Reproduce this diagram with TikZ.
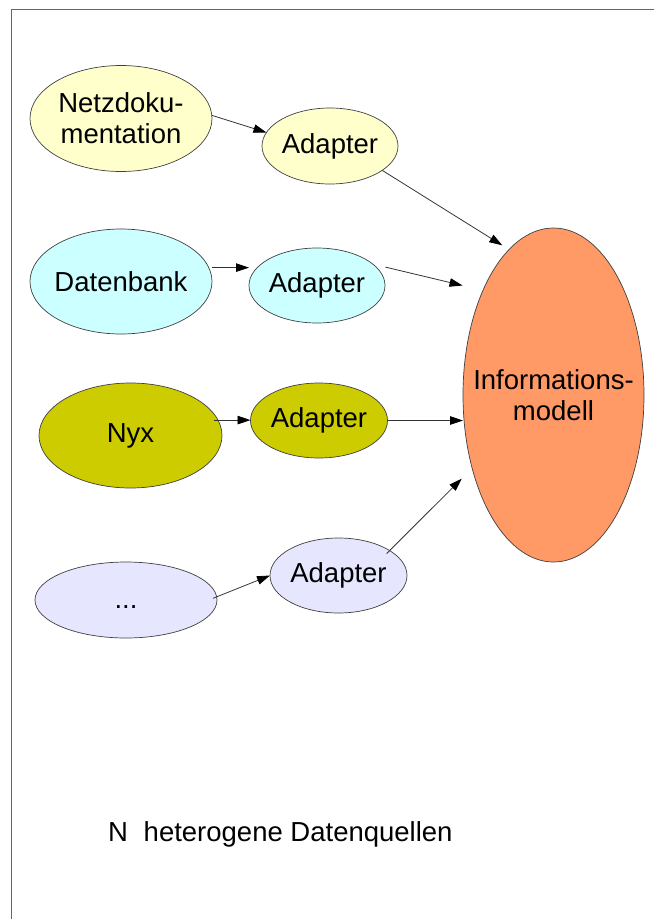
\documentclass[tikz,border=0pt]{standalone}
\usepackage{fontspec}
\setmainfont{Liberation Sans}
\usetikzlibrary{arrows.meta,shapes.geometric,calc}
\definecolor{cNetz}{HTML}{FFFFCC}
\definecolor{cDB}{HTML}{CCFFFF}
\definecolor{cNyx}{HTML}{CCCC00}
\definecolor{cDots}{HTML}{E6E6FF}
\definecolor{cInfo}{HTML}{FF9966}
\begin{document}
\begin{tikzpicture}[x=1pt,y=-1pt,
  blob/.style={ellipse, draw=black!75, line width=0.7pt, inner sep=0pt, outer sep=0pt},
  lbl/.style={font=\fontsize{27.5}{31}\selectfont, align=center, inner sep=0pt, text=black},
  conn/.style={draw=black!80, line width=0.8pt, -{Triangle[length=13pt,width=8.5pt,color=black]}}
]
\useasboundingbox (0,0) rectangle (654,919);
\draw[black!60, line width=1.5pt] (654,9.5) -- (11.5,9.5) -- (11.5,919);

\node[blob, fill=cNetz, minimum width=182pt, minimum height=106pt,
      label={[lbl]center:{Netzdoku-\\mentation}}] (netz) at (121,118.5) {};
\node[blob, fill=cNetz, minimum width=136pt, minimum height=76pt,
      label={[lbl]center:Adapter}] (ad1) at (330,146) {};
\node[blob, fill=cDB, minimum width=182pt, minimum height=105pt,
      label={[lbl]center:Datenbank}] (db) at (121,281.5) {};
\node[blob, fill=cDB, minimum width=136pt, minimum height=75pt,
      label={[lbl]center:Adapter}] (ad2) at (317,285.5) {};
\node[blob, fill=cNyx, minimum width=183pt, minimum height=105pt,
      label={[lbl]center:Nyx}] (nyx) at (130.5,435.5) {};
\node[blob, fill=cNyx, minimum width=137pt, minimum height=75pt,
      label={[lbl]center:Adapter}] (ad3) at (319,420.5) {};
\node[blob, fill=cDots, minimum width=182pt, minimum height=76pt,
      label={[lbl,yshift=-7pt]center:...}] (dots) at (126,600) {};
\node[blob, fill=cDots, minimum width=137pt, minimum height=75pt,
      label={[lbl]center:Adapter}] (ad4) at (338.5,575.5) {};
\node[blob, fill=cInfo, minimum width=181pt, minimum height=334pt,
      label={[lbl]center:{Informations-\\modell}}] (info) at (553.5,395) {};

\draw[conn] (netz.2.5) -- (ad1.168);
\draw[conn, shorten <=3pt] (db.9) -- (db.9 -| ad2.west);
\draw[conn, shorten <=-4pt] (nyx.10) -- (nyx.10 -| ad3.west);
\draw[conn, shorten <=-4pt] (dots.2.6) -- (ad4.west);
\draw[conn, shorten >=8pt] (ad1.335.6) -- (info.107.8);
\draw[conn, shorten <=13pt, shorten >=21pt] (ad2.21.1) -- (info.124.15);
\draw[conn] (ad3.east) -- (ad3.east -| info.west);
\draw[conn, shorten <=-4.3pt, shorten >=14.7pt] (ad4.26.1) -- (info.222.85);

\node[lbl, anchor=base west] (caption) at (108,841) {N\hspace{15.7pt}heterogene Datenquellen};
\end{tikzpicture}
\end{document}
